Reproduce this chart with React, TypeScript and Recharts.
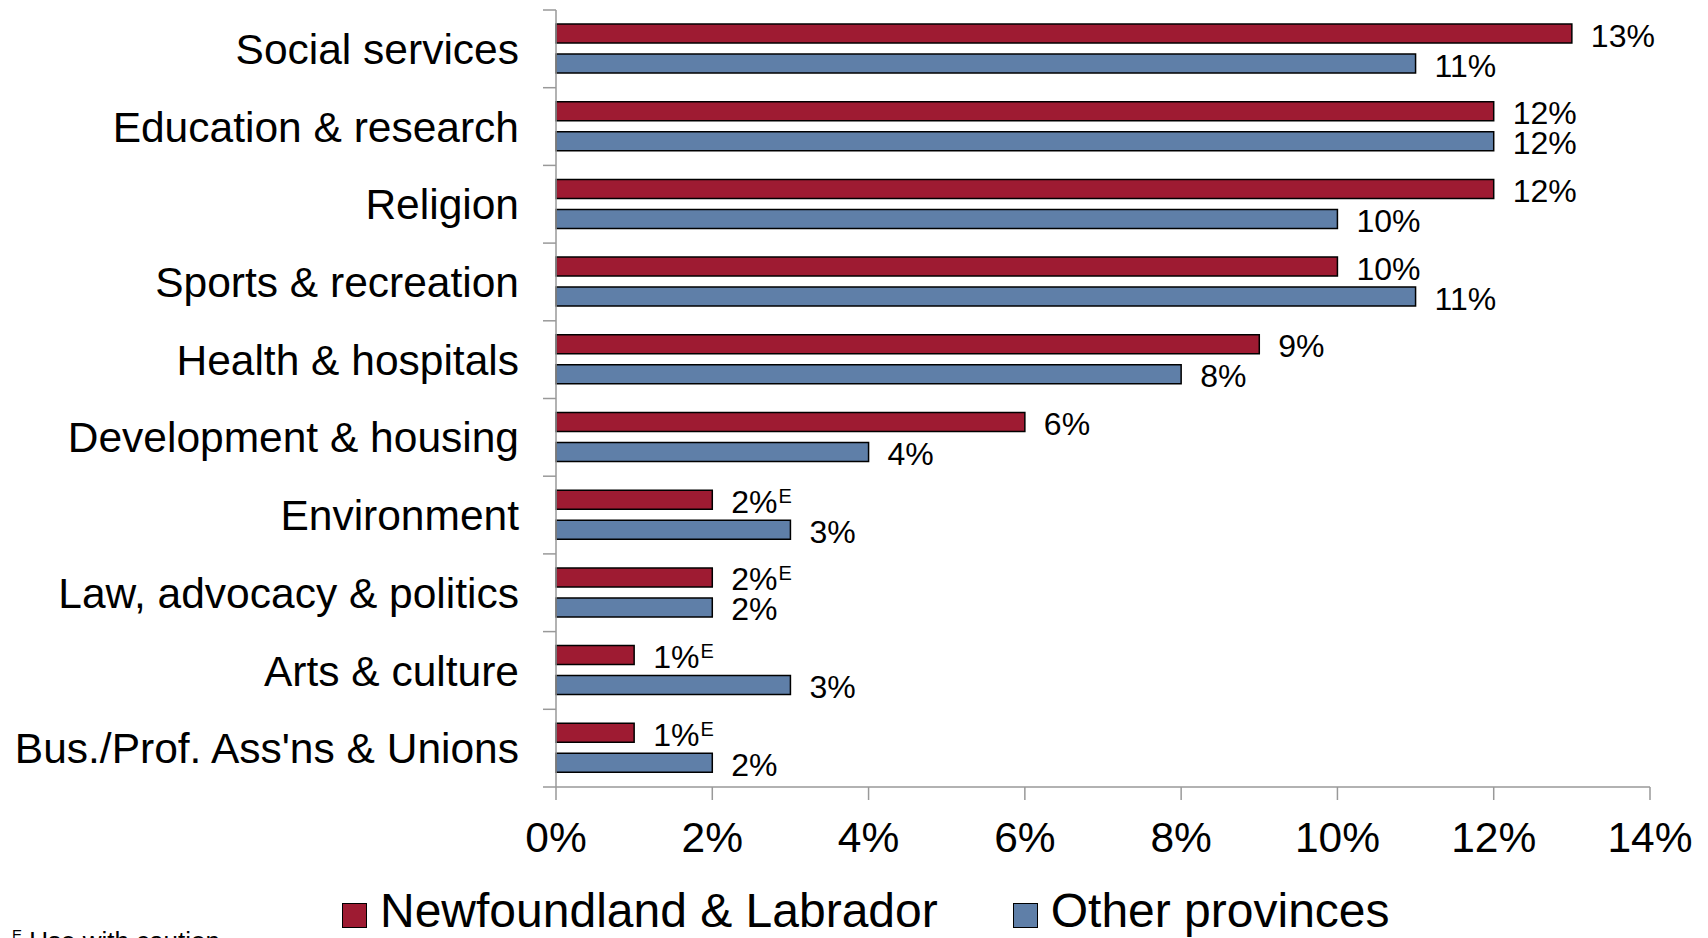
import React from 'react';
import { BarChart, Bar, XAxis, YAxis, Legend, LabelList } from 'recharts';

const categories = [
  'Social services',
  'Education & research',
  'Religion',
  'Sports & recreation',
  'Health & hospitals',
  'Development & housing',
  'Environment',
  'Law, advocacy & politics',
  'Arts & culture',
  "Bus./Prof. Ass'ns & Unions",
];
const nlValues = [13, 12, 12, 10, 9, 6, 2, 2, 1, 1];
const otherValues = [11, 12, 10, 11, 8, 4, 3, 2, 3, 2];
const nlCaution = [false, false, false, false, false, false, true, true, true, true];
const otherCaution = [false, false, false, false, false, false, false, false, false, false];
const xTicks = [0, 2, 4, 6, 8, 10, 12, 14];
const seriesNames = ['Newfoundland & Labrador', 'Other provinces'];

const RED = '#9E1B32';
const BLUE = '#5F7FA8';
const AXIS = '#999999';
const FONT = '"Liberation Sans", Arial, Helvetica, sans-serif';

const data = categories.map((name, i) => ({
  name,
  nl: nlValues[i],
  other: otherValues[i],
}));

const Y_TICK_SIZE = 13;
const Y_TICK_MARGIN = 24;

const CategoryTick = (props: any) => {
  const { x, y, payload, index, visibleTicksCount, height } = props;
  const half =
    payload && typeof payload.offset === 'number' && payload.offset > 0
      ? payload.offset
      : height / (visibleTicksCount || 10) / 2;
  const lx1 = x + Y_TICK_MARGIN;
  const lx2 = lx1 + Y_TICK_SIZE;
  return (
    <g>
      <line x1={lx1} x2={lx2} y1={y - half} y2={y - half} stroke={AXIS} strokeWidth={1.5} />
      {index === visibleTicksCount - 1 && (
        <line x1={lx1} x2={lx2} y1={y + half} y2={y + half} stroke={AXIS} strokeWidth={1.5} />
      )}
      <text
        x={x}
        y={y}
        dy="0.355em"
        textAnchor="end"
        fontSize={42.5}
        fontFamily={FONT}
        fill="#000"
      >
        {payload.value}
      </text>
    </g>
  );
};

const makeValueLabel = (caution: boolean[], shift: number) => (props: any) => {
  const { x, y, width, height, value, index } = props;
  const tx = Number(x) + Number(width) + 19;
  const ty = Number(y) + Number(height) / 2 + shift;
  return (
    <text x={tx} y={ty} fontSize={32} fontFamily={FONT} fill="#000">
      {value}%
      {caution[index] ? (
        <tspan fontSize={20} dy={-10} dx={1}>
          E
        </tspan>
      ) : null}
    </text>
  );
};

const LegendContent = () => {
  const colors = [RED, BLUE];
  return (
    <div
      style={{
        height: 50,
        display: 'flex',
        alignItems: 'center',
        paddingLeft: 342,
        fontFamily: FONT,
        fontSize: 48,
        color: '#000',
        whiteSpace: 'nowrap',
      }}
    >
      {seriesNames.map((n, i) => (
        <div
          key={n}
          style={{ display: 'flex', alignItems: 'center', marginRight: i === 0 ? 75 : 0 }}
        >
          <div
            style={{
              width: 23,
              height: 23,
              background: colors[i],
              border: '1.5px solid #000',
              marginRight: 13,
              marginTop: 8,
            }}
          />
          <span style={{ lineHeight: '50px' }}>{n}</span>
        </div>
      ))}
    </div>
  );
};

export default function App() {
  return (
    <div
      style={{
        position: 'absolute',
        left: 0,
        top: 0,
        width: 1708,
        height: 938,
        overflow: 'hidden',
        background: '#fff',
      }}
    >
      <BarChart
        width={1708}
        height={938}
        data={data}
        layout="vertical"
        margin={{ top: 10, right: 58, bottom: 31, left: 0 }}
        barSize={19}
        barGap={11}
      >
        <XAxis
          type="number"
          domain={[0, 14]}
          ticks={xTicks}
          tickFormatter={(v: number) => `${v}%`}
          axisLine={{ stroke: AXIS, strokeWidth: 1.5 }}
          tickLine={{ stroke: AXIS, strokeWidth: 1.5 }}
          tickSize={13}
          tickMargin={22}
          height={70}
          tick={{ fontSize: 42.5, fontFamily: FONT, fill: '#000' }}
          interval={0}
        />
        <YAxis
          type="category"
          dataKey="name"
          width={556}
          axisLine={{ stroke: AXIS, strokeWidth: 1.5 }}
          tickLine={false}
          tickSize={Y_TICK_SIZE}
          tickMargin={Y_TICK_MARGIN}
          tick={<CategoryTick />}
          interval={0}
        />
        <Legend
          verticalAlign="bottom"
          content={<LegendContent />}
          wrapperStyle={{ top: 886, left: 0, width: 1708 }}
        />
        <Bar
          dataKey="nl"
          name={seriesNames[0]}
          fill={RED}
          stroke="#000"
          strokeWidth={1.5}
          isAnimationActive={false}
        >
          <LabelList dataKey="nl" content={makeValueLabel(nlCaution, 13)} />
        </Bar>
        <Bar
          dataKey="other"
          name={seriesNames[1]}
          fill={BLUE}
          stroke="#000"
          strokeWidth={1.5}
          isAnimationActive={false}
        >
          <LabelList dataKey="other" content={makeValueLabel(otherCaution, 13)} />
        </Bar>
      </BarChart>
      <div
        style={{
          position: 'absolute',
          left: 12,
          top: 926,
          fontFamily: FONT,
          fontSize: 26,
          color: '#000',
          whiteSpace: 'nowrap',
        }}
      >
        <span style={{ fontSize: 15, verticalAlign: 'super' }}>E</span> Use with caution
      </div>
    </div>
  );
}
